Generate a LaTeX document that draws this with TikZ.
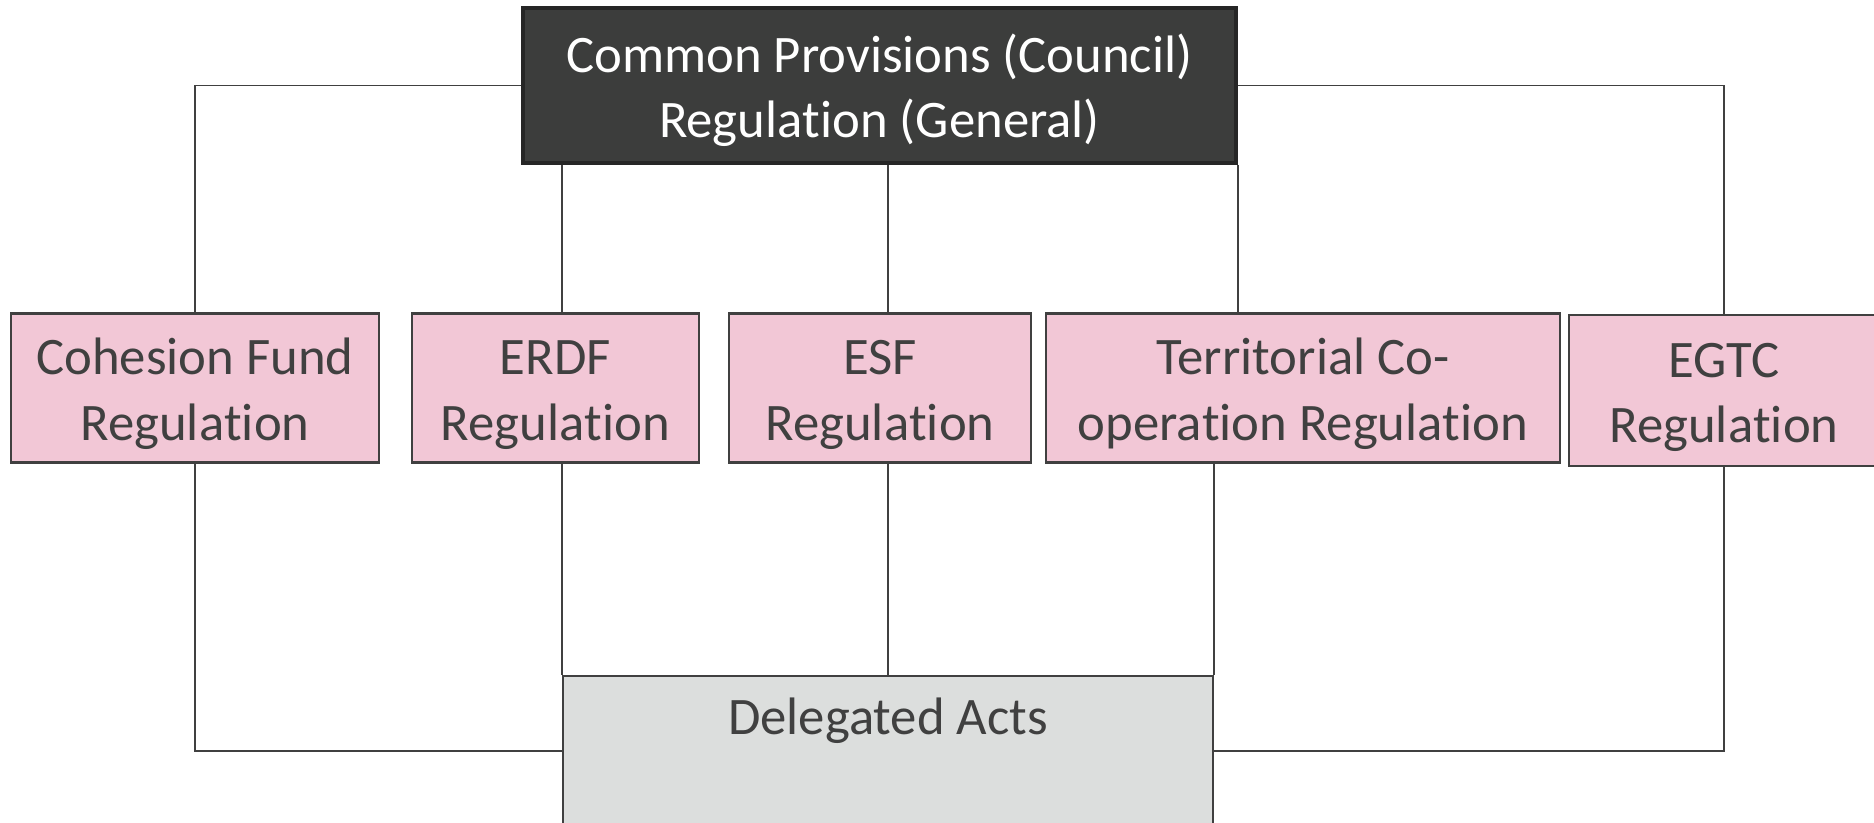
\documentclass[tikz,border=0pt]{standalone}
\usepackage{fontspec}
\setmainfont{Carlito}[Ligatures={NoCommon,NoContextual}]
\usetikzlibrary{calc}
\definecolor{topgray}{HTML}{3C3D3C}
\definecolor{topedge}{HTML}{262626}
\definecolor{pinkreg}{HTML}{F2C7D6}
\definecolor{delgray}{HTML}{DCDEDD}
\definecolor{txtgray}{HTML}{404040}
\newcommand{\regfont}{\fontsize{15}{18.6}\selectfont}
\newcommand{\regstrut}{\rule{0pt}{13.6pt}}
\newcommand{\reg}{Regula\kern0ptt\kern0ption}
\def\regheight{1.49}
\def\regrow{-3.88}

\begin{document}
\begin{tikzpicture}[line width=0.45pt,
  regbox/.style={draw=txtgray, fill=pinkreg, text=txtgray, font=\regfont, align=center,
                 minimum height=\regheight cm, inner sep=0pt, line width=0.6pt},
  conn/.style={draw=txtgray, line width=0.45pt}]

\clip (0,0) rectangle (18.74,-8.22);

% GENERAL
\node[draw=topedge, line width=1pt, fill=topgray, text=white, font=\regfont, align=center,
      minimum width=7.13cm, minimum height=1.55cm, inner sep=0pt] (gen) at (8.795,-0.855)
      {\regstrut Common Provisions (Council)\\\reg{} (General)};

% FUND REGULATIONS
\node[regbox, minimum width=3.68cm] (coh)  at (1.95,\regrow)  {\regstrut Cohesion Fund\\\reg};
\node[regbox, minimum width=2.87cm] (erdf) at (5.555,\regrow) {\regstrut ERDF\\\reg};
\node[regbox, minimum width=3.02cm] (esf)  at (8.80,\regrow)  {\regstrut ESF\\\reg};
\node[regbox, minimum width=5.14cm] (terr) at (13.03,\regrow) {\regstrut Territorial Co-\\opera\kern0ptt\kern0ption \reg};
\node[regbox, minimum width=3.1cm, minimum height=1.51cm] (egtc) at (17.24,-3.905) {\regstrut EGTC\\\reg};

% DELEGATED ACTS
\node[draw=txtgray, fill=delgray, text=txtgray, font=\regfont, line width=0.6pt,
      minimum width=6.5cm, inner xsep=0pt, inner ysep=0.2cm,
      text height=0.38cm, text depth=0.72cm, anchor=north] (dele) at (8.88,-6.75) {Delegated Acts};

% top links
\draw[conn] (gen.west) -| (coh.north);
\draw[conn] (gen.east) -| (egtc.north);
\draw[conn] (dele.north west |- gen.south) -- (dele.north west |- erdf.north);
\draw[conn] (dele.north |- gen.south) -- (dele.north |- esf.north);
\draw[conn] (gen.south east |- gen.south) -- (gen.south east |- terr.north);

% bottom links
\draw[conn] (coh.south) |- (dele.west);
\draw[conn] (dele.north west |- erdf.south) -- (dele.north west);
\draw[conn] (dele.north |- esf.south) -- (dele.north);
\draw[conn] (dele.north east |- terr.south) -- (dele.north east);
\draw[conn] (egtc.south) |- (dele.east);
\end{tikzpicture}
\end{document}
